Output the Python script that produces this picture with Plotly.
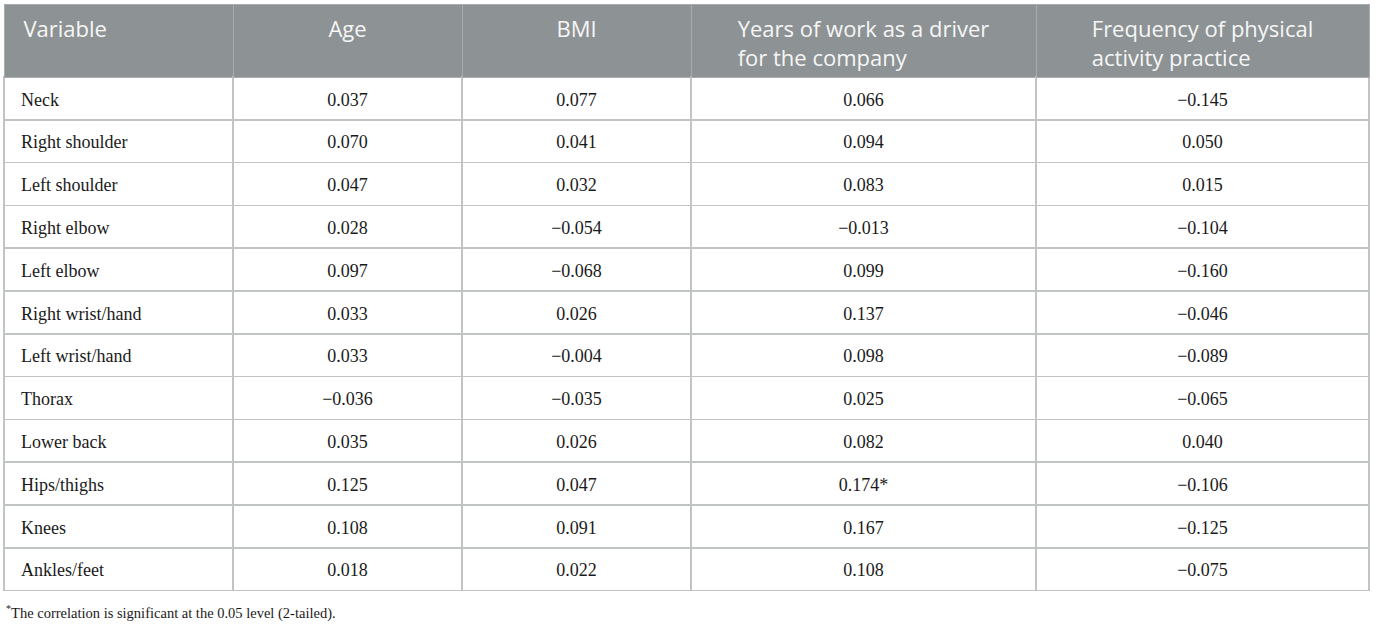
import plotly.graph_objects as go

variables = ['Neck', 'Right shoulder', 'Left shoulder', 'Right elbow', 'Left elbow',
             'Right wrist/hand', 'Left wrist/hand', 'Thorax', 'Lower back',
             'Hips/thighs', 'Knees', 'Ankles/feet']
age = [0.037, 0.070, 0.047, 0.028, 0.097, 0.033, 0.033, -0.036, 0.035, 0.125, 0.108, 0.018]
bmi = [0.077, 0.041, 0.032, -0.054, -0.068, 0.026, -0.004, -0.035, 0.026, 0.047, 0.091, 0.022]
years = [0.066, 0.094, 0.083, -0.013, 0.099, 0.137, 0.098, 0.025, 0.082, 0.174, 0.167, 0.108]
freq = [-0.145, 0.050, 0.015, -0.104, -0.160, -0.046, -0.089, -0.065, 0.040, -0.106, -0.125, -0.075]
# significant at 0.05 (only one)
years_sig = ['', '', '', '', '', '', '', '', '', '*', '', '']

headers = ['Variable', 'Age', 'BMI', 'Years of work as a driver<br>for the company',
           'Frequency of physical<br>activity practice']
note = '<sup>*</sup>The correlation is significant at the 0.05 level (2-tailed).'


def fmt(v):
    s = f'{abs(v):.3f}'
    return ('\u2212' + s) if v < 0 else s


W, H = 1375, 624
left, right, top, bottom = 4, 1369, 4, 591
colw = [229, 229, 229, 345, 333]
aligns = ['left', 'center', 'center', 'center', 'center']
pad = '\u00a0\u00a0'
clear = 'rgba(0,0,0,0)'

# every header gets two lines so they all start at the same height
head_vals = [h if '<br>' in h else h + '<br>\u00a0' for h in headers]
head_vals[0] = pad + head_vals[0]

body = [[pad + v for v in variables],
        [fmt(v) for v in age],
        [fmt(v) for v in bmi],
        [fmt(v) + s for v, s in zip(years, years_sig)],
        [fmt(v) for v in freq]]
n = len(variables)

fig = go.Figure()
# grid: fills and lines
fig.add_trace(go.Table(
    domain=dict(x=[left / W, right / W], y=[1 - bottom / H, 1 - top / H]),
    columnwidth=colw,
    header=dict(values=[''] * 5, fill_color='#8d9294',
                line=dict(color='#a9adae', width=1), height=73),
    cells=dict(values=[[''] * n] * 5, fill_color='white',
               line=dict(color='#c1c4c4', width=1.5), height=42.8),
))
# text layer, nudged down a bit since table text sits at the top of the cell
fig.add_trace(go.Table(
    domain=dict(x=[left / W, right / W], y=[1 - (bottom + 14) / H, 1 - (top + 1) / H]),
    columnwidth=colw,
    header=dict(values=head_vals, fill_color=clear, line=dict(color=clear, width=0),
                font=dict(family='Open Sans', size=22, color='#f6f6f6'),
                align=aligns, height=79),
    cells=dict(values=body, fill_color=clear, line=dict(color=clear, width=0),
               font=dict(family='Liberation Serif', size=18, color='#1a1a1a'),
               align=aligns, height=42.8),
))

fig.add_annotation(text=note, x=left / W, y=1 - 612 / H, xref='paper', yref='paper',
                   xanchor='left', yanchor='middle', showarrow=False,
                   font=dict(family='Liberation Serif', size=14.5, color='#1a1a1a'))

fig.update_layout(width=W, height=H, margin=dict(l=0, r=0, t=0, b=0),
                  paper_bgcolor='white', plot_bgcolor='white')
fig.write_html('out.html', config={'displayModeBar': False},
               post_script="document.body.style.margin='0';")
